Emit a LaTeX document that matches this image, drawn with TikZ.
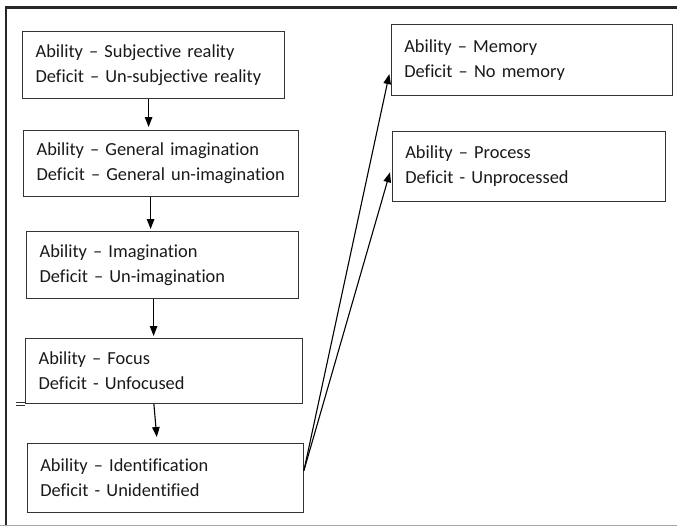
\documentclass[tikz,border=0pt]{standalone}
\usepackage{fontspec}
\setmainfont{Carlito}[Ligatures={NoCommon}]
\usetikzlibrary{arrows.meta}
\begin{document}
\begin{tikzpicture}[x=1pt,y=-1pt,
  box/.style={draw=black!80, line width=1.2pt, anchor=north west, align=left,
    inner xsep=13pt, inner ysep=0pt, font=\fontsize{18.4}{25}\selectfont, text=black!90},
  arr/.style={draw=black, line width=1.1pt, -{Triangle[length=10pt,width=7.5pt]}},
  framedge/.style={line width=2.6pt, draw=black!85},
  baseedge/.style={line width=1.5pt, draw=black!35}]
  \useasboundingbox (0,0) rectangle (677,527);

  % page frame
  \draw[framedge] (5,7.5) -- (677,7.5);
  \draw[framedge] (6,7) -- (6,525);
  \draw[baseedge] (0,525.5) -- (677,525.5);

  % left column
  \node[box, text width=236pt, minimum height=67pt] (b1) at (22,31)
    {Ability – Subjective reality\\Deficit – Un-subjective reality};
  \node[box, text width=249pt, minimum height=66pt] (b2) at (23,130)
    {Ability – General imagination\\Deficit – General un-imagination};
  \node[box, text width=246pt, minimum height=67pt] (b3) at (26,231)
    {Ability – Imagination\\Deficit – Un-imagination};
  \node[box, text width=251pt, minimum height=65pt] (b4) at (25,338)
    {Ability – Focus\\Deficit - Unfocused};
  \node[box, text width=250pt, minimum height=69pt] (b5) at (26.7,443)
    {Ability – Identification\\Deficit - Unidentified};

  % right column
  \node[box, text width=255pt, minimum height=71pt] (b6) at (390.7,24)
    {Ability – Memory\\Deficit – No memory};
  \node[box, text width=247pt, minimum height=70pt] (b7) at (391.7,130.7)
    {Ability – Process\\Deficit - Unprocessed};

  % small double tick at the focus box corner
  \draw[line width=1pt, black!80] ([xshift=-9pt,yshift=1.5pt]b4.south west) -- ([yshift=1.5pt]b4.south west);
  \draw[line width=1pt, black!80] ([xshift=-9pt,yshift=-0.8pt]b4.south west) -- ([yshift=-0.8pt]b4.south west);

  % vertical chain
  \draw[arr, shorten >=3pt] ([xshift=-5pt]b1.south) -- ([xshift=-5pt]b1.south |- b2.north);
  \draw[arr, shorten >=2pt] ([xshift=-10.5pt]b2.south) -- ([xshift=-10.5pt]b2.south |- b3.north);
  \draw[arr, shorten >=2pt] ([xshift=-9pt]b3.south) -- ([xshift=-9pt]b3.south |- b4.north);
  \draw[arr, shorten >=6pt] ([xshift=-10.2pt]b4.south) -- ([xshift=-8pt]b5.north);

  % branches to the right column
  \draw[arr] ([yshift=7.5pt]b5.east) -- ([xshift=-1.4pt,yshift=-14pt]b6.west);
  \draw[arr] ([yshift=7.5pt]b5.east) -- ([xshift=-1.7pt,yshift=-6pt]b7.west);
\end{tikzpicture}
\end{document}
